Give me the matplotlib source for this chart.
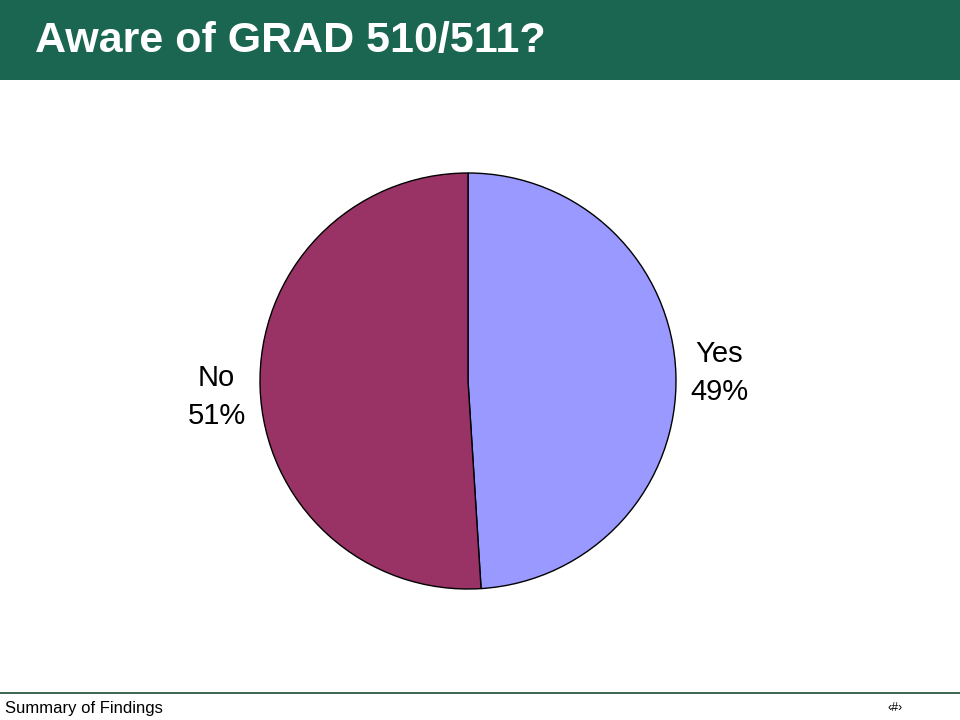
import matplotlib.pyplot as plt
from matplotlib.patches import Rectangle

plt.rcParams['font.family'] = ['Liberation Sans', 'DejaVu Sans']

# data
labels = ['Yes', 'No']
values = [49, 51]
colors = ['#9999ff', '#993366']

title = 'Aware of GRAD 510/511?'
footer = 'Summary of Findings'

fig = plt.figure(figsize=(9.6, 7.2), dpi=100)

# green title band
fig.patches.append(Rectangle((0, 1 - 80/720), 1, 80/720, transform=fig.transFigure,
                             facecolor='#1a6650', edgecolor='none', zorder=0))
fig.text(35/960, 1 - 41/720, title, color='white', fontsize=31, fontweight='bold',
         va='center', ha='left')

# footer
fig.add_artist(plt.Line2D([0, 1], [27/720, 27/720], color='#1a4d33', lw=1.2))
fig.text(5/960, 12/720, footer, fontsize=12, va='center', ha='left', color='black')
fig.text(887/960, 12/720, '\u2039#\u203a', fontsize=9, va='center', ha='left', color='black')

# pie
ax = fig.add_axes([156/960, 27/720, 624/960, 624/720])
texts = ax.pie(values, labels=[f'{l}\n{v}%' for l, v in zip(labels, values)],
               colors=colors, startangle=90, counterclock=False,
               labeldistance=1.21,
               wedgeprops={'edgecolor': 'black', 'linewidth': 1},
               textprops={'fontsize': 21, 'linespacing': 1.45})[1]
for t in texts:
    t.set_ha('center')
x, y = texts[1].get_position()
texts[1].set_position((x, y - 0.04))
ax.set_xlim(-1.5, 1.5)
ax.set_ylim(-1.5, 1.5)
ax.set_aspect('equal')

plt.savefig('out.png', dpi=100)
